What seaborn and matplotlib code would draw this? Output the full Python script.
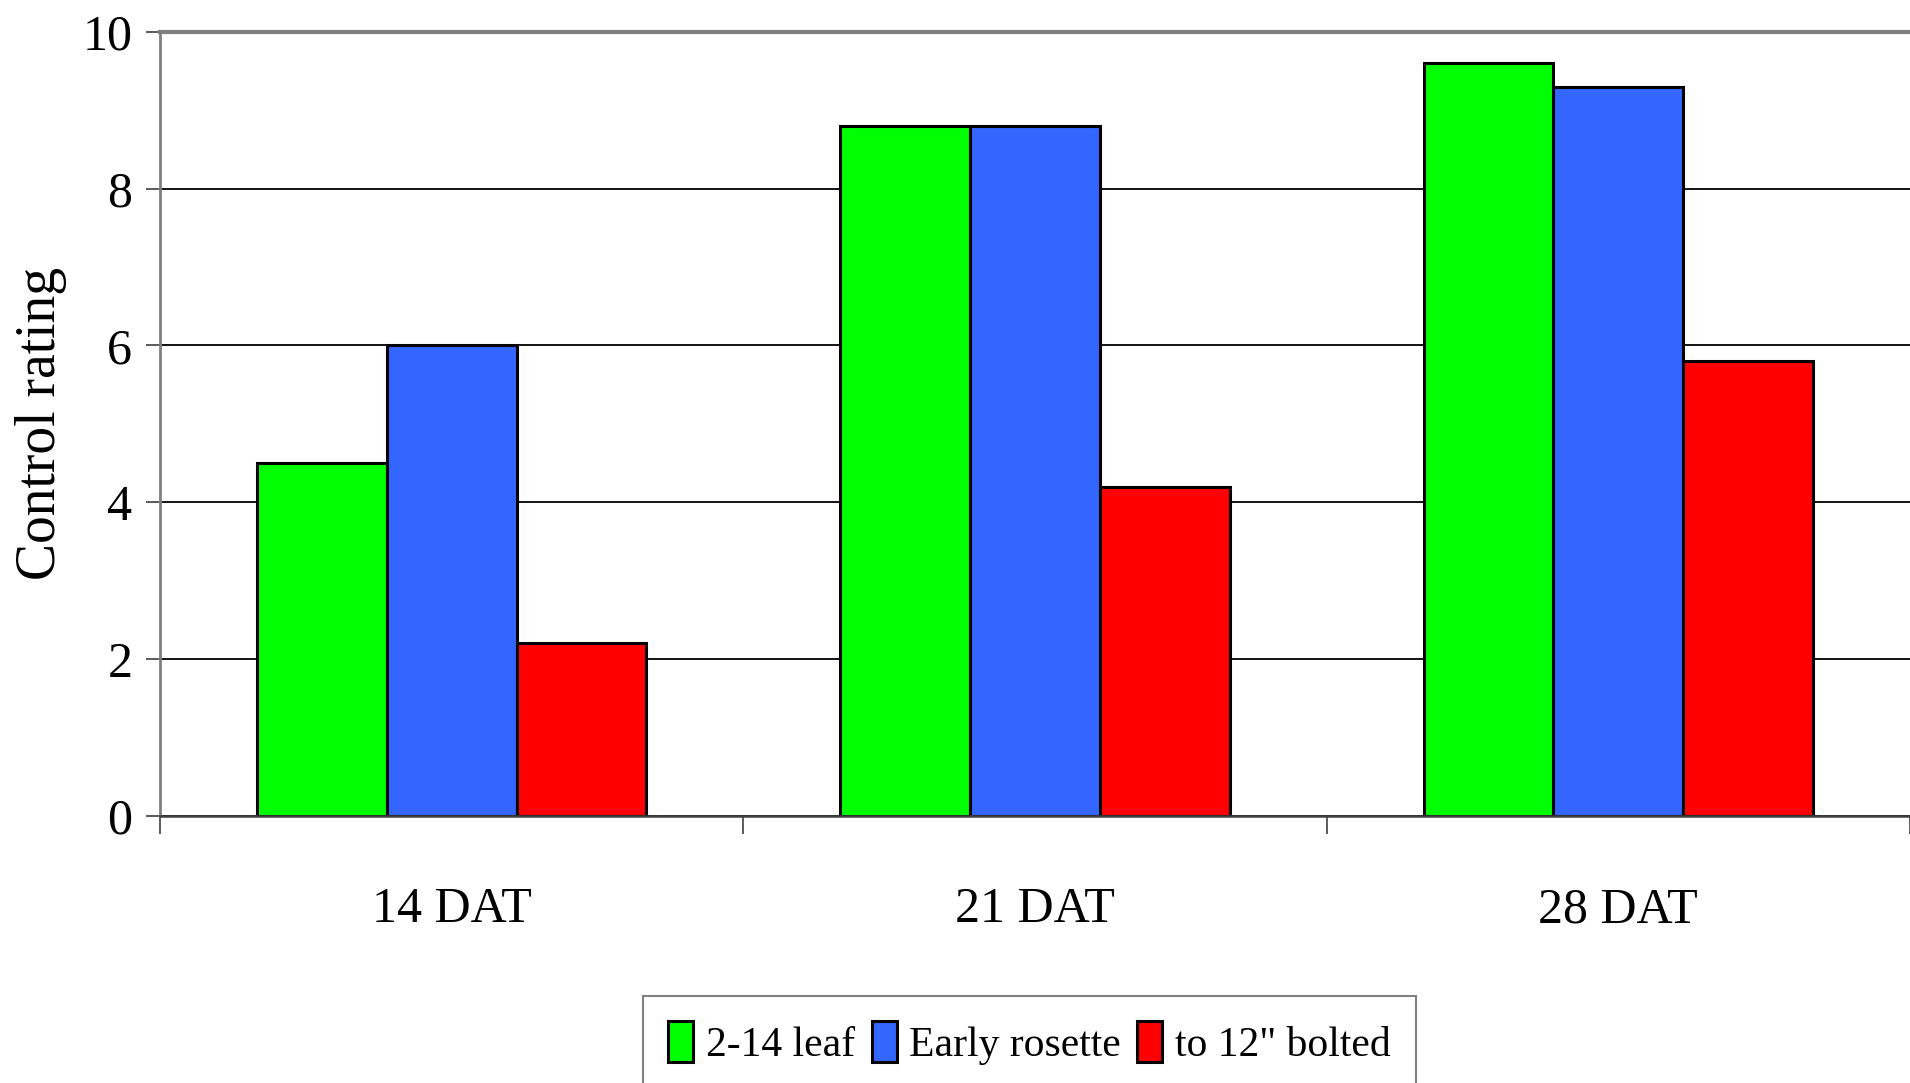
import matplotlib
matplotlib.use("Agg")
import matplotlib.pyplot as plt
import seaborn as sns
import pandas as pd

categories = ["14 DAT", "21 DAT", "28 DAT"]
series = ["2-14 leaf", "Early rosette", "to 12\" bolted"]
leaf_2_14 = [4.5, 8.8, 9.6]
early_rosette = [6.0, 8.8, 9.3]
bolted_12 = [2.2, 4.2, 5.8]
colors = ["#00FF00", "#3366FF", "#FF0000"]
y_ticks = [0, 2, 4, 6, 8, 10]

rows = []
for name, vals in zip(series, [leaf_2_14, early_rosette, bolted_12]):
    for c, v in zip(categories, vals):
        rows.append({"Timing": c, "Stage": name, "Rating": v})
df = pd.DataFrame(rows)

sns.set_theme(style="white")
plt.rcParams["font.family"] = ["Liberation Serif", "DejaVu Serif"]
plt.rcParams["text.color"] = "black"
plt.rcParams["xtick.color"] = "black"
plt.rcParams["ytick.color"] = "black"
plt.rcParams["axes.labelcolor"] = "black"

fig = plt.figure(figsize=(19.1, 10.83), dpi=100)
ax = fig.add_axes([0.0838, 0.2465, 0.9162, 0.7242])

sns.barplot(data=df, x="Timing", y="Rating", hue="Stage", order=categories,
            hue_order=series, palette=colors, width=0.667, gap=0,
            edgecolor="black", linewidth=2.2, saturation=1, ax=ax, legend=True)

ax.set_ylim(0, 10)
ax.set_xlim(-0.5, 2.5)
ax.set_yticks(y_ticks)
ax.set_yticklabels([str(t) for t in y_ticks])
ax.yaxis.grid(True, color="black", linewidth=1.3)
ax.set_axisbelow(True)

ax.spines["right"].set_visible(False)
ax.spines["top"].set_color("#808080")
ax.spines["top"].set_linewidth(3)
ax.spines["left"].set_color("#808080")
ax.spines["left"].set_linewidth(2)
ax.spines["bottom"].set_color("#404040")
ax.spines["bottom"].set_linewidth(1.8)

ax.tick_params(axis="y", which="major", left=True, length=10, width=1.2,
               color="#404040", labelsize=36, pad=10, labelcolor="black")
ax.set_xticks([0, 1, 2])
ax.set_xticklabels(categories)
ax.set_xticks([-0.5, 0.5, 1.5, 2.5], minor=True)
ax.tick_params(axis="x", which="major", bottom=False, length=0, labelsize=36, pad=51,
               labelcolor="black")
ax.tick_params(axis="x", which="minor", bottom=True, length=13, width=1.2, color="#404040")

ax.set_xlabel("")
ax.set_ylabel("Control rating", fontsize=40, color="black")
ax.yaxis.set_label_coords(-0.053, 0.5)

handles, labels = ax.get_legend_handles_labels()
ax.legend_.remove()
leg = fig.legend(handles, labels, loc="upper center", bbox_to_anchor=(0.539, 0.0803),
                 ncol=3, fontsize=30, frameon=True, fancybox=False, edgecolor="#606060",
                 handlelength=0.6, handleheight=1.15, handletextpad=0.3, columnspacing=0.4,
                 borderpad=0.6, borderaxespad=0)
leg.get_frame().set_linewidth(1.5)
for t in leg.get_texts():
    t.set_color("black")

fig.savefig("out.png", dpi=100)
